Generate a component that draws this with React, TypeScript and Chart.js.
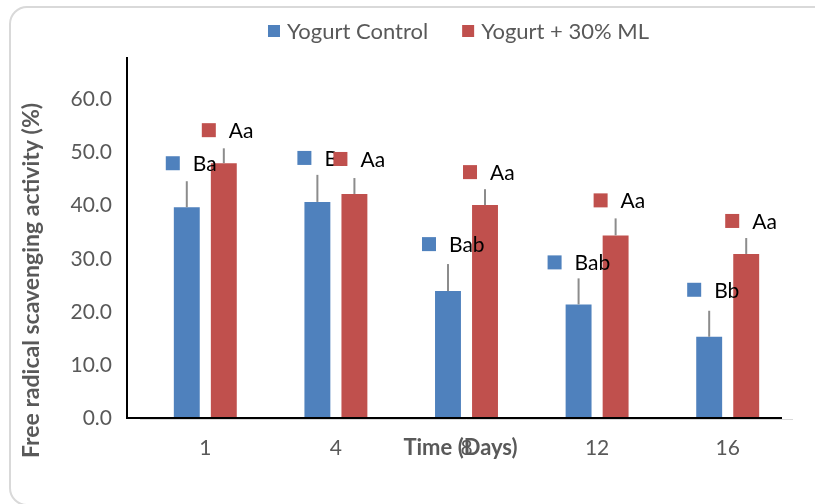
import React, { useEffect, useRef } from "react";
import { Chart, registerables } from "chart.js";

Chart.register(...registerables);

// Storage time (days) and antioxidant activity (% DPPH scavenging)
const days = ["1", "4", "8", "12", "16"];
const controlMeans = [39.7, 40.7, 23.9, 21.4, 15.3];
const controlErrors = [4.9, 5.1, 5.1, 4.9, 4.9];
const controlLetters = ["Ba", "Ba", "Bab", "Bab", "Bb"];
const mlMeans = [48.0, 42.2, 40.1, 34.4, 30.9];
const mlErrors = [2.8, 3.0, 3.0, 3.2, 3.0];
const mlLetters = ["Aa", "Aa", "Aa", "Aa", "Aa"];

const seriesNames = ["Yogurt Control", "Yogurt + 30% ML"];
const seriesColors = ["#4f81bd", "#c0504d"];

const yAxisTitle = "Free radical scavenging activity (%)";
const xAxisTitle = "Time (Days)";

// Letter-label placement relative to the top of each bar (px)
const controlLabelNudge = [
  [-21, -44],
  [-20, -44],
  [-26, -47],
  [-31, -42],
  [-22, -47],
];
const mlLabelNudge = [
  [-22, -33],
  [-21, -35],
  [-22, -33],
  [-22, -35],
  [-21, -33],
];

const FONT = "Lato, 'DejaVu Sans', sans-serif";
const AXIS_TEXT = "#595959";

const annotate = {
  id: "annotate",
  afterDatasetsDraw(chart: any) {
    const { ctx } = chart;
    const yScale = chart.scales.y;
    ctx.save();
    // upward error bars
    chart.data.datasets.forEach((ds: any, i: number) => {
      const meta = chart.getDatasetMeta(i);
      meta.data.forEach((bar: any, j: number) => {
        const top = yScale.getPixelForValue(ds.data[j] + ds.errors[j]);
        ctx.strokeStyle = "#8c8c8c";
        ctx.lineWidth = 2;
        ctx.beginPath();
        ctx.moveTo(bar.x, bar.y);
        ctx.lineTo(bar.x, top);
        ctx.stroke();
      });
    });
    // significance letters with series key
    ctx.font = `21px ${FONT}`;
    ctx.textBaseline = "middle";
    ctx.textAlign = "left";
    chart.data.datasets.forEach((ds: any, i: number) => {
      const meta = chart.getDatasetMeta(i);
      meta.data.forEach((bar: any, j: number) => {
        const [dx, dy] = ds.labelNudge[j];
        const x = bar.x + dx;
        const y = bar.y + dy;
        ctx.fillStyle = ds.backgroundColor;
        ctx.fillRect(x, y - 7, 14, 14);
        ctx.fillStyle = "#000000";
        ctx.fillText(ds.letters[j], x + 27, y + 1);
      });
    });
    ctx.restore();
  },
  afterDraw(chart: any) {
    const { ctx, chartArea } = chart;
    const { left, right, top, bottom } = chartArea;
    ctx.save();
    // category axis (light) and the black axis frame
    ctx.strokeStyle = "#d9d9d9";
    ctx.lineWidth = 1;
    ctx.beginPath();
    ctx.moveTo(left, bottom + 1.5);
    ctx.lineTo(right, bottom + 1.5);
    ctx.stroke();
    ctx.strokeStyle = "#000000";
    ctx.lineWidth = 2;
    ctx.beginPath();
    ctx.moveTo(left - 13, top);
    ctx.lineTo(left - 13, bottom);
    ctx.lineTo(right - 11, bottom);
    ctx.stroke();

    // axis titles
    ctx.fillStyle = AXIS_TEXT;
    ctx.font = `bold 22px ${FONT}`;
    ctx.textAlign = "center";
    ctx.textBaseline = "middle";
    ctx.fillText(xAxisTitle, (left + right) / 2 - 6, bottom + 30);
    ctx.font = `bold 23px ${FONT}`;
    ctx.save();
    ctx.translate(32, (top + bottom) / 2 + 43);
    ctx.rotate(-Math.PI / 2);
    ctx.fillText(yAxisTitle, 0, 0);
    ctx.restore();

    // legend
    ctx.font = `22px ${FONT}`;
    ctx.textAlign = "left";
    const box = 12;
    const gap = 7;
    const itemGap = 34;
    const widths = chart.data.datasets.map(
      (ds: any) => box + gap + ctx.measureText(ds.label).width
    );
    const total = widths.reduce((a: number, b: number) => a + b, 0) + itemGap;
    let x = (left + right) / 2 - 8 - total / 2;
    const ly = 31;
    chart.data.datasets.forEach((ds: any, i: number) => {
      ctx.fillStyle = ds.backgroundColor;
      ctx.fillRect(x, ly - 6, box, box);
      ctx.fillStyle = AXIS_TEXT;
      ctx.fillText(ds.label, x + box + gap, ly + 1);
      x += widths[i] + itemGap;
    });
    ctx.restore();
  },
};

export default function App() {
  const canvasRef = useRef<HTMLCanvasElement | null>(null);

  useEffect(() => {
    if (!canvasRef.current) return;
    const chart = new Chart(canvasRef.current, {
      type: "bar",
      data: {
        labels: days,
        datasets: [
          {
            label: seriesNames[0],
            data: controlMeans,
            errors: controlErrors,
            letters: controlLetters,
            labelNudge: controlLabelNudge,
            backgroundColor: seriesColors[0],
            categoryPercentage: 0.567,
            barPercentage: 0.7,
          } as any,
          {
            label: seriesNames[1],
            data: mlMeans,
            errors: mlErrors,
            letters: mlLetters,
            labelNudge: mlLabelNudge,
            backgroundColor: seriesColors[1],
            categoryPercentage: 0.567,
            barPercentage: 0.7,
          } as any,
        ],
      },
      options: {
        animation: false,
        responsive: true,
        maintainAspectRatio: false,
        layout: { padding: { top: 57, right: 22, bottom: 0, left: 0 } },
        plugins: {
          legend: { display: false },
          tooltip: { enabled: false },
        },
        scales: {
          x: {
            grid: { display: false, drawTicks: false },
            border: { display: false },
            ticks: {
              color: AXIS_TEXT,
              font: { family: FONT, size: 21 },
              padding: 18,
            },
            afterFit(scale: any) {
              scale.height = 86;
            },
          },
          y: {
            min: 0,
            max: 68,
            grid: { display: false, drawTicks: false },
            border: { display: false },
            ticks: {
              stepSize: 10,
              color: AXIS_TEXT,
              font: { family: FONT, size: 21 },
              padding: 28,
              callback: (v: any) => Number(v).toFixed(1),
            },
            afterBuildTicks(axis: any) {
              axis.ticks = axis.ticks.filter((t: any) => t.value <= 60);
            },
            afterFit(scale: any) {
              scale.width = 140;
            },
          },
        },
      },
      plugins: [annotate],
    });
    return () => chart.destroy();
  }, []);

  return (
    <div
      style={{
        position: "fixed",
        left: 0,
        top: 0,
        width: 815,
        height: 504,
        overflow: "hidden",
        background: "#ffffff",
      }}
    >
      <div
        style={{
          position: "absolute",
          left: 9,
          top: 6,
          width: 830,
          height: 500,
          border: "2px solid #d9d9d9",
          borderRadius: 18,
          boxSizing: "border-box",
        }}
      />
      <canvas
        ref={canvasRef}
        style={{ position: "absolute", left: 0, top: 0, width: 815, height: 504 }}
      />
    </div>
  );
}
